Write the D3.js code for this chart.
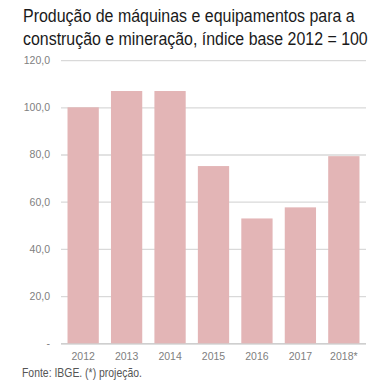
<!DOCTYPE html>
<html><head><meta charset="utf-8">
<script src="https://cdn.jsdelivr.net/npm/d3@7/dist/d3.min.js"></script>
<style>body{margin:0;background:#fff}svg{display:block}</style>
</head><body><svg id="c" width="386" height="387"></svg>
<script>
const categories = ["2012","2013","2014","2015","2016","2017","2018*"];
const values = [100.0, 106.9, 106.9, 75.1, 52.9, 57.6, 79.3];
const yTicks = [0, 20, 40, 60, 80, 100, 120];
const titleLines = ["Produção de máquinas e equipamentos para a", "construção e mineração, índice base 2012 = 100"];
const footer = "Fonte: IBGE. (*) projeção.";

(function(){
const FONT = "'Liberation Sans Narrow', 'Arial Narrow', 'Liberation Sans', Arial, sans-serif";
const svg = d3.select("#c");
const mL = 61, mR = 366, mT = 60.1, mB = 343.3;
const x = d3.scaleBand().domain(categories).range([mL, mR]).paddingInner(0.28).paddingOuter(0.15);
const y = d3.scaleLinear().domain([0, 120]).range([mB, mT]);
const titleW = [332, 345];

function fit(sel, tx, ty, w) {
  const n = sel.node().getComputedTextLength();
  const s = Math.min(1, w / n);
  sel.attr("x", 0).attr("y", 0).attr("transform", `translate(${tx},${ty}) scale(${s},1)`);
}

titleLines.forEach((t, i) => {
  const tt = svg.append("text").attr("class","title")
    .attr("font-family", FONT).attr("font-size", 18.5)
    .attr("fill", "#1a1a1a").text(t);
  fit(tt, 23, 22 + i*22.5, titleW[i]);
});

const fmt = v => v === 0 ? "-" : v.toFixed(1).replace(".", ",");
const yAxis = d3.axisLeft(y).tickValues(yTicks).tickSize(-(mR-mL)).tickFormat(fmt).tickPadding(11);
const gy = svg.append("g").attr("transform", `translate(${mL},0)`).call(yAxis);
gy.select(".domain").remove();
gy.selectAll(".tick line").attr("stroke", d => d === 0 ? "#bfbfbf" : "#d9d9d9").attr("stroke-width", 1.3);
gy.selectAll(".tick text").attr("font-family", FONT).attr("font-size", 10.5).attr("fill", "#808080");

svg.selectAll("rect.bar").data(values).join("rect").attr("class","bar")
  .attr("x", (d,i) => x(categories[i])).attr("width", x.bandwidth())
  .attr("y", d => y(d)).attr("height", d => y(0) - y(d))
  .attr("fill", "#e3b5b6");

const xAxis = d3.axisBottom(x).tickSize(0).tickPadding(9);
const gx = svg.append("g").attr("transform", `translate(0,${mB})`).call(xAxis);
gx.select(".domain").remove();
gx.selectAll(".tick text").attr("font-family", FONT).attr("font-size", 10.5).attr("fill", "#808080");

const ft = svg.append("text")
  .attr("font-family", FONT).attr("font-size", 12.5)
  .attr("fill", "#555").text(footer);
fit(ft, 22, 377, 120);
})();
</script></body></html>
